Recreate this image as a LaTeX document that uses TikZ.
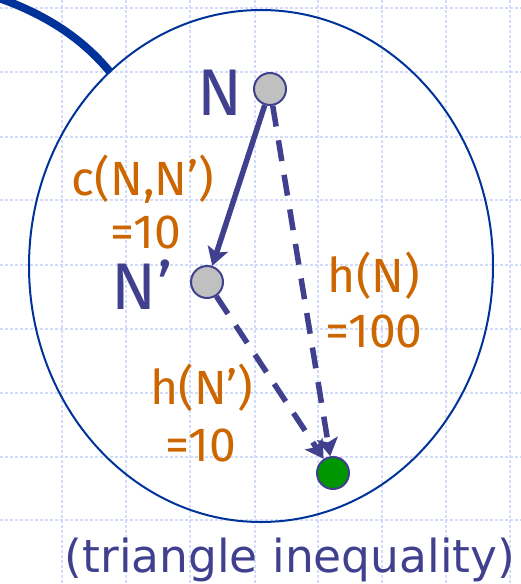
\documentclass[tikz,border=0pt]{standalone}
\usepackage{fontspec}
\setmainfont{Fira Sans}
\newfontfamily\capfont{DejaVu Sans}
\usepackage{tikz}
\usetikzlibrary{arrows.meta,positioning,calc}
\definecolor{arcblue}{RGB}{0,51,153}
\definecolor{nodeblue}{RGB}{64,64,143}
\definecolor{labelorange}{RGB}{204,102,0}
\definecolor{gridblue}{RGB}{210,220,250}
\definecolor{nodegray}{RGB}{192,192,192}
\definecolor{goalgreen}{RGB}{0,150,0}

\begin{document}
\begin{tikzpicture}[x=1pt,y=-1pt,>={Stealth[length=18pt,width=21pt,inset=4pt]},
  state/.style={circle,draw=nodeblue,line width=2pt,fill=nodegray,minimum size=32pt,inner sep=0pt},
  big/.style={text=nodeblue,inner sep=0pt,anchor=base,font=\fontsize{66}{66}\selectfont},
  cost/.style={text=labelorange,inner sep=0pt,anchor=base,font=\fontsize{48}{48}\selectfont},
  move/.style={draw=nodeblue,line width=5.5pt,->},
  guess/.style={move,dash pattern=on 21pt off 14pt}]
  \useasboundingbox (0,0) rectangle (521,584);
  % faint grid behind everything
  \foreach \x in {62,126,190,255,318,382,446,510}
    \draw[gridblue,line width=1.6pt,dash pattern=on 3pt off 2pt] (\x,0) -- (\x,584);
  \foreach \y in {8,72,137,200,265,329,393,457,520}
    \draw[gridblue,line width=1.6pt,dash pattern=on 3pt off 2pt] (0,\y) -- (521,\y);
  % the zoomed region and its tail
  \draw[arcblue,line width=2pt] (261,266) ellipse [x radius=232pt,y radius=256pt];
  \coordinate (tailstart) at (-4,-3);
  \coordinate (tailend) at (110,72);
  \draw[arcblue,line width=8pt] (tailstart) .. controls (45,14) and (82,38) .. (tailend);
  % states
  \node[state] (n) at (270,89) {};
  \node[state] (np) at (207,282) {};
  \node[state,fill=goalgreen] (goal) at (333,473) {};
  \node[big] (nlab) at (220,115) {N};
  \node[big] (nplab) at (142,309) {N’};
  % costs and estimates
  \node[cost] (c) at (143,195) {c(N,N’)};
  \node[cost] (cval) at (146,248) {=10};
  \node[cost] (hn) at (374,292) {h(N)};
  \node[cost] (hnval) at (374,347) {=100};
  \node[cost] (hnp) at (202,404) {h(N’)};
  \node[cost] (hnpval) at (201,461) {=10};
  \draw[move] (n) -- (np);
  \draw[guess] (n) -- (goal);
  \draw[guess] (np) -- (goal);
  \node[text=nodeblue,inner sep=0pt,anchor=base,font=\capfont\fontsize{45.5}{45.5}\selectfont] (note) at (290,572) {(triangle inequality)};
\end{tikzpicture}
\end{document}
